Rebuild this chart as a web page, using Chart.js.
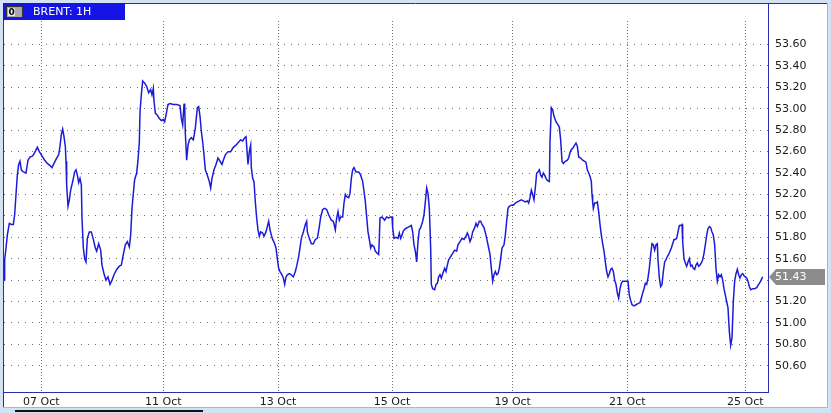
<!DOCTYPE html>
<html><head><meta charset="utf-8">
<script src="https://cdn.jsdelivr.net/npm/chart.js@4.4.1/dist/chart.umd.min.js"></script>
<style>
html,body{margin:0;padding:0;background:#d3e3f4;overflow:hidden}
#wrap{position:relative;width:831px;height:413px}
canvas{display:block}
</style>
</head><body>
<div id="wrap"><canvas id="c" width="831" height="413"></canvas></div>
<script>
const chartTitle = 'BRENT: 1H';

// time step of each reading (hourly bars, uniform step units)
const t = [
 0,1,3,5,8,11,14,16,18,20,22,24,26,29,33,36,39,43,46,50,53,57,61,65,69,72,75,79,82,84,
 86,88,90,92,93,94,96,98,100,103,106,108,110,112,114,116,117,119,121,123,125,128,131,134,137,139,142,145,147,150,
 153,156,159,162,165,169,173,176,179,182,185,188,190,192,194,196,199,201,203,204,206,208,211,214,217,220,222,224,225,227,
 230,233,236,239,241,243,246,249,254,259,264,266,268,270,271,272,274,276,278,281,284,
 287,290,292,294,296,298,300,302,305,308,310,312,315,318,321,324,327,329,332,336,
 340,344,348,352,355,358,361,363,365,366,368,370,371,373,375,377,379,381,383,385,
 388,390,393,395,397,399,401,403,406,408,410,412,414,417,419,421,423,425,428,431,
 434,437,439,442,444,446,449,452,454,455,458,461,464,467,470,473,475,478,481,484,
 487,491,494,497,499,501,503,505,508,510,512,514,517,519,521,523,525,528,532,535,
 538,540,542,544,546,548,550,552,555,557,560,562,563,564,567,
 571,574,577,580,582,583,585,588,591,593,595,597,599,602,605,608,611,613,615,617,
 619,621,623,625,628,630,632,634,636,638,640,641,643,646,648,650,652,654,656,658,
 661,663,665,667,670,673,676,679,681,684,687,690,693,695,697,699,701,703,706,708,
 710,713,715,717,720,723,725,727,729,731,733,735,737,739,741,743,745,747,750,752,
 754,756,758,761,764,767,770,773,776,779,782,785,787,789,791,793,795,797,799,801,
 803,805,807,809,811,813,815,818,819,821,823,825,828,831,833,835,837,839,842,845,
 847,849,851,853,
 856,858,860,862,865,868,871,873,875,877,879,881,882,883,884,886,888,890,892,894,
 896,898,900,902,904,906,908,910,912,914,916,918,920,922,924,926,928,931,934,936,
 938,940,942,945,948,951,954,956,958,960,962,964,966,968,970,972,974,976,978,980,
 981,983,985,987,989,991,993,995,997,999,1001,1003,1005,1007,1009,1011,1013,1015,1017,1018,
 1020,1022,1024,1026,1028,1030,1032,1034,1036,1038,1040,1042,1044,1046,1048,1050,1052,1054,1056,1058,
 1060,1062,1064,1066,1068,1070,1072,1074,1076,1078,1080,1082,1084,1086,1088,1090,1092,1094,1096,1098,
 1100,1102,1104,1106,1108,1110,1112,1114,1116,1118,1120,1123,1126,1129,1132,1135,1138
];

const price = [
 51.40,51.59,51.70,51.82,51.93,51.92,51.92,52.01,52.20,52.38,52.48,52.51,52.43,52.41,52.40,52.52,52.55,52.56,52.59,52.64,
 52.60,52.56,52.52,52.49,52.47,52.45,52.49,52.54,52.57,52.65,52.76,52.81,52.74,52.65,52.51,52.29,52.09,52.15,52.24,52.32,
 52.41,52.43,52.38,52.31,52.35,52.29,51.98,51.70,51.60,51.57,51.79,51.85,51.85,51.78,51.70,51.67,51.74,51.68,51.54,51.46,
 51.40,51.43,51.36,51.40,51.45,51.50,51.53,51.54,51.64,51.73,51.76,51.71,51.82,52.07,52.21,52.34,52.40,52.52,52.69,52.97,
 53.13,53.26,53.24,53.21,53.15,53.18,53.13,53.19,53.07,52.96,52.94,52.91,52.89,52.90,52.88,52.94,53.04,53.05,53.04,53.04,
 53.03,52.91,52.85,53.04,53.05,52.77,52.52,52.66,52.71,52.73,52.71,
 52.82,53.01,53.02,52.93,52.79,52.69,52.57,52.43,52.38,52.32,52.26,52.35,52.43,52.48,52.54,52.51,52.48,52.52,52.57,52.60,
 52.60,52.64,52.66,52.69,52.71,52.70,52.73,52.74,52.57,52.48,52.60,52.66,52.45,52.35,52.32,52.13,51.98,51.87,51.81,51.85,
 51.84,51.81,51.85,51.90,51.95,51.87,51.82,51.78,51.74,51.70,51.60,51.51,51.48,51.45,51.42,51.36,51.43,51.45,51.46,51.45,
 51.43,51.48,51.53,51.62,51.70,51.79,51.85,51.92,51.95,51.85,51.79,51.74,51.74,51.78,51.79,51.90,51.99,52.06,52.07,52.06,
 52.01,51.96,51.95,51.87,51.98,52.04,51.96,51.99,51.99,52.12,52.20,52.18,52.17,52.21,52.35,52.43,52.45,52.41,52.41,52.38,
 52.32,52.23,52.13,51.99,51.85,51.78,51.70,51.73,51.71,51.67,51.65,51.64,51.79,51.98,51.99,
 51.96,51.99,51.98,51.99,51.99,51.89,51.79,51.80,51.79,51.84,51.79,51.82,51.86,51.88,51.89,51.90,51.91,51.85,51.73,51.67,
 51.57,51.76,51.87,51.89,51.95,52.01,52.13,52.26,52.21,52.07,51.70,51.36,51.32,51.31,51.36,51.37,51.43,51.45,51.42,51.46,
 51.51,51.48,51.54,51.59,51.62,51.65,51.68,51.67,51.73,51.76,51.79,51.78,51.81,51.84,51.81,51.76,51.79,51.85,51.89,51.93,
 51.90,51.95,51.95,51.92,51.89,51.82,51.76,51.70,51.64,51.51,51.39,51.45,51.48,51.45,51.46,51.51,51.60,51.70,51.73,51.82,
 51.95,52.07,52.09,52.10,52.10,52.12,52.13,52.14,52.15,52.14,52.13,52.14,52.12,52.17,52.24,52.20,52.15,52.26,52.40,52.41,
 52.43,52.38,52.36,52.40,52.38,52.35,52.33,52.32,52.69,53.01,52.99,52.93,52.88,52.85,52.83,52.71,52.51,52.49,52.51,52.52,
 52.54,52.59,52.62,52.63,
 52.66,52.68,52.65,52.55,52.54,52.52,52.51,52.50,52.43,52.40,52.37,52.32,52.20,52.13,52.07,52.12,52.12,52.13,52.04,51.92,
 51.82,51.74,51.67,51.57,51.48,51.43,51.46,51.50,51.51,51.48,51.40,51.36,51.28,51.23,51.32,51.37,51.39,51.39,51.39,51.39,
 51.26,51.21,51.17,51.16,51.17,51.18,51.19,51.23,51.28,51.32,51.37,51.36,51.42,51.51,51.64,51.74,51.73,51.68,51.73,51.74,
 51.59,51.42,51.34,51.36,51.48,51.57,51.59,51.62,51.64,51.67,51.70,51.74,51.78,51.78,51.79,51.85,51.91,51.91,51.92,51.76,
 51.60,51.56,51.53,51.57,51.60,51.53,51.54,51.51,51.50,51.54,51.56,51.53,51.54,51.56,51.59,51.65,51.73,51.82,51.88,51.90,
 51.89,51.85,51.82,51.73,51.51,51.39,51.45,51.43,51.45,51.40,51.32,51.26,51.20,51.14,50.92,50.79,50.86,51.20,51.39,51.46,
 51.50,51.45,51.42,51.45,51.46,51.44,51.43,51.42,51.39,51.34,51.31,51.32,51.32,51.33,51.36,51.39,51.43
];

const dateTickPos = [56, 239, 411, 582, 763, 935, 1112];
const dateLabels = ['07 Oct', '11 Oct', '13 Oct', '15 Oct', '19 Oct', '21 Oct', '25 Oct'];
const priceTicks = [50.6, 50.8, 51.0, 51.2, 51.4, 51.6, 51.8, 52.0, 52.2, 52.4, 52.6, 52.8, 53.0, 53.2, 53.4, 53.6];
const lastPrice = 51.43;
const tRange = [0, 1146];
const priceRange = [50.355, 53.82];

const n = Math.min(t.length, price.length);
const points = [];
for (let i = 0; i < n; i++) points.push({x: t[i], y: price[i]});

const FONT = 'DejaVu Sans, Verdana, sans-serif';
const FRAME = '#2b2bb0';

const decor = {
  id: 'decor',
  beforeDraw(chart) {
    const ctx = chart.ctx;
    ctx.save();
    ctx.fillStyle = '#d3e3f4';
    ctx.fillRect(0, 0, 831, 413);
    ctx.fillStyle = '#ffffff';
    ctx.fillRect(3, 3, 825, 405);
    ctx.restore();
  },
  afterDraw(chart) {
    const ctx = chart.ctx;
    const a = chart.chartArea;
    ctx.save();
    ctx.setLineDash([]);
    ctx.strokeStyle = FRAME;
    ctx.lineWidth = 1;
    ctx.beginPath();
    ctx.moveTo(3, 3.5); ctx.lineTo(828, 3.5);
    ctx.moveTo(3.5, 3); ctx.lineTo(3.5, 408);
    ctx.moveTo(Math.round(a.right) + 0.5, 3); ctx.lineTo(Math.round(a.right) + 0.5, Math.round(a.bottom) + 1);
    ctx.moveTo(3, Math.round(a.bottom) + 0.5); ctx.lineTo(Math.round(a.right) + 1, Math.round(a.bottom) + 0.5);
    ctx.stroke();
    ctx.strokeStyle = '#9fb8d6';
    ctx.beginPath();
    ctx.moveTo(827.5, 3); ctx.lineTo(827.5, 408);
    ctx.moveTo(3, 407.5); ctx.lineTo(828, 407.5);
    ctx.stroke();

    // title tab
    ctx.fillStyle = '#1414e6';
    ctx.fillRect(3, 3, 122, 17);
    ctx.fillStyle = '#ffffff';
    ctx.font = '11px ' + FONT;
    ctx.textBaseline = 'middle';
    ctx.textAlign = 'left';
    ctx.fillText(chartTitle, 33, 12);
    // icon
    ctx.fillStyle = '#a8a8a8';
    ctx.fillRect(6, 6, 17, 12);
    ctx.strokeStyle = '#333';
    ctx.strokeRect(6.5, 6.5, 16, 11);
    ctx.fillStyle = '#e8e8e8';
    ctx.fillRect(8, 8, 7, 8);
    ctx.fillStyle = '#000';
    ctx.font = 'bold 9px ' + FONT;
    ctx.fillText('0', 8.5, 12.5);

    // last price tag
    const y = Math.round(chart.scales.y.getPixelForValue(lastPrice));
    const x0 = Math.round(a.right) + 1;
    ctx.fillStyle = '#8c8c8c';
    ctx.beginPath();
    ctx.moveTo(x0, y);
    ctx.lineTo(x0 + 7, y - 8);
    ctx.lineTo(825, y - 8);
    ctx.lineTo(825, y + 8);
    ctx.lineTo(x0 + 7, y + 8);
    ctx.closePath();
    ctx.fill();
    ctx.fillStyle = '#ffffff';
    ctx.font = '11px ' + FONT;
    ctx.textBaseline = 'middle';
    ctx.fillText(lastPrice.toFixed(2), 775, y);

    // scrollbar
    ctx.fillStyle = '#111';
    ctx.fillRect(15, 410, 188, 2);
    ctx.restore();
  }
};

new Chart(document.getElementById('c'), {
  type: 'line',
  data: {
    datasets: [{
      data: points,
      borderColor: '#1c1cd8',
      borderWidth: 1.5,
      pointRadius: 0,
      tension: 0,
      fill: false
    }]
  },
  options: {
    responsive: false,
    animation: false,
    devicePixelRatio: 1,
    layout: {padding: {left: 4, top: 21, right: 0, bottom: 0}},
    plugins: {legend: {display: false}, tooltip: {enabled: false}},
    scales: {
      x: {
        type: 'linear',
        min: tRange[0], max: tRange[1],
        afterBuildTicks: s => { s.ticks = dateTickPos.map(v => ({value: v})); },
        afterFit: s => { s.height = 21; },
        ticks: {
          autoSkip: false, maxRotation: 0, padding: 4,
          color: '#1a1a1a', font: {family: FONT, size: 11},
          callback: (v, i) => dateLabels[i]
        },
        grid: {color: '#707070', lineWidth: 1, drawTicks: false, borderDash: [1, 2]},
        border: {display: false, dash: [1, 2]}
      },
      y: {
        type: 'linear',
        position: 'right',
        min: priceRange[0], max: priceRange[1],
        afterBuildTicks: s => { s.ticks = priceTicks.map(v => ({value: v})); },
        afterFit: s => { s.width = 63; },
        ticks: {
          padding: 7, color: '#1a1a1a', font: {family: FONT, size: 11},
          callback: v => Number(v).toFixed(2)
        },
        grid: {color: '#707070', lineWidth: 1, drawTicks: false, borderDash: [1, 6]},
        border: {display: false, dash: [1, 6]}
      }
    }
  },
  plugins: [decor]
});
</script>
</body></html>
